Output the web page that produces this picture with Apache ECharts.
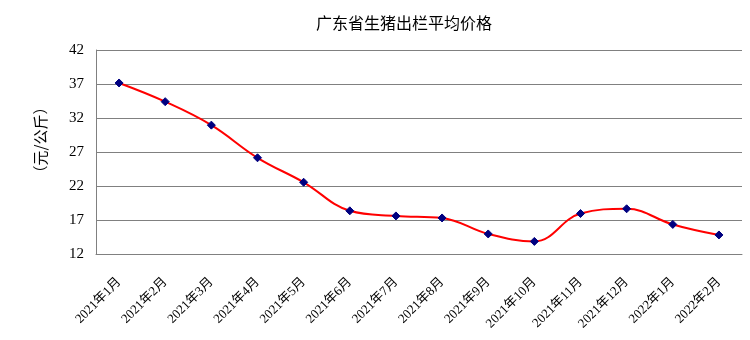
<!DOCTYPE html>
<html>
<head>
<meta charset="utf-8">
<script src="https://cdn.jsdelivr.net/npm/echarts@6/dist/echarts.min.js"></script>
<style>html,body{margin:0;padding:0;background:#fff}#c{width:750px;height:340px}</style>
</head>
<body>
<div id="c"></div>
<script>
const titleText = '广东省生猪出栏平均价格';
const yName = '（元/公斤）';
const categories = ['2021年1月','2021年2月','2021年3月','2021年4月','2021年5月','2021年6月','2021年7月','2021年8月','2021年9月','2021年10月','2021年11月','2021年12月','2022年1月','2022年2月'];
const prices = [37.15, 34.4, 30.95, 26.15, 22.55, 18.35, 17.6, 17.3, 14.95, 13.85, 17.95, 18.65, 16.35, 14.8];
const yTicks = [12, 17, 22, 27, 32, 37, 42];

const font = '"Liberation Serif", "Noto Sans CJK SC", serif';
const chart = echarts.init(document.getElementById('c'), null, {renderer: 'canvas'});
chart.setOption({
  animation: false,
  backgroundColor: '#fff',
  title: {
    text: titleText, left: 399, top: 10, textAlign: 'center',
    textStyle: {fontFamily: '"Noto Sans CJK SC", serif', fontSize: 16, fontWeight: 'normal', color: '#000'}
  },
  graphic: [{
    type: 'text', x: 40, y: 140, rotation: Math.PI / 2,
    style: {text: yName, fontFamily: '"Noto Sans CJK SC", serif', fontSize: 15, fill: '#000', align: 'center', verticalAlign: 'middle'}
  }],
  grid: {left: 96, right: 8, top: 50, bottom: 86},
  xAxis: {
    type: 'category', data: categories, boundaryGap: true,
    axisLine: {lineStyle: {color: '#808080', width: 1}},
    axisTick: {inside: true, length: 4, lineStyle: {color: '#808080'}},
    axisLabel: {rotate: 45, margin: 26, fontFamily: font, fontSize: 13, color: '#000', interval: 0}
  },
  yAxis: {
    type: 'value', min: yTicks[0], max: yTicks[yTicks.length - 1], interval: 5,
    axisLine: {show: true, lineStyle: {color: '#808080', width: 1}},
    axisTick: {show: true, inside: true, length: 4, lineStyle: {color: '#808080'}},
    splitLine: {lineStyle: {color: '#808080', width: 1}},
    axisLabel: {margin: 12, fontFamily: font, fontSize: 15, color: '#000'}
  },
  series: [{
    type: 'line', data: prices, smooth: 0.4,
    lineStyle: {color: '#ff0000', width: 2},
    symbol: 'diamond', symbolSize: 8,
    itemStyle: {color: '#000080', borderColor: '#000080'}
  }]
});
</script>
</body>
</html>
